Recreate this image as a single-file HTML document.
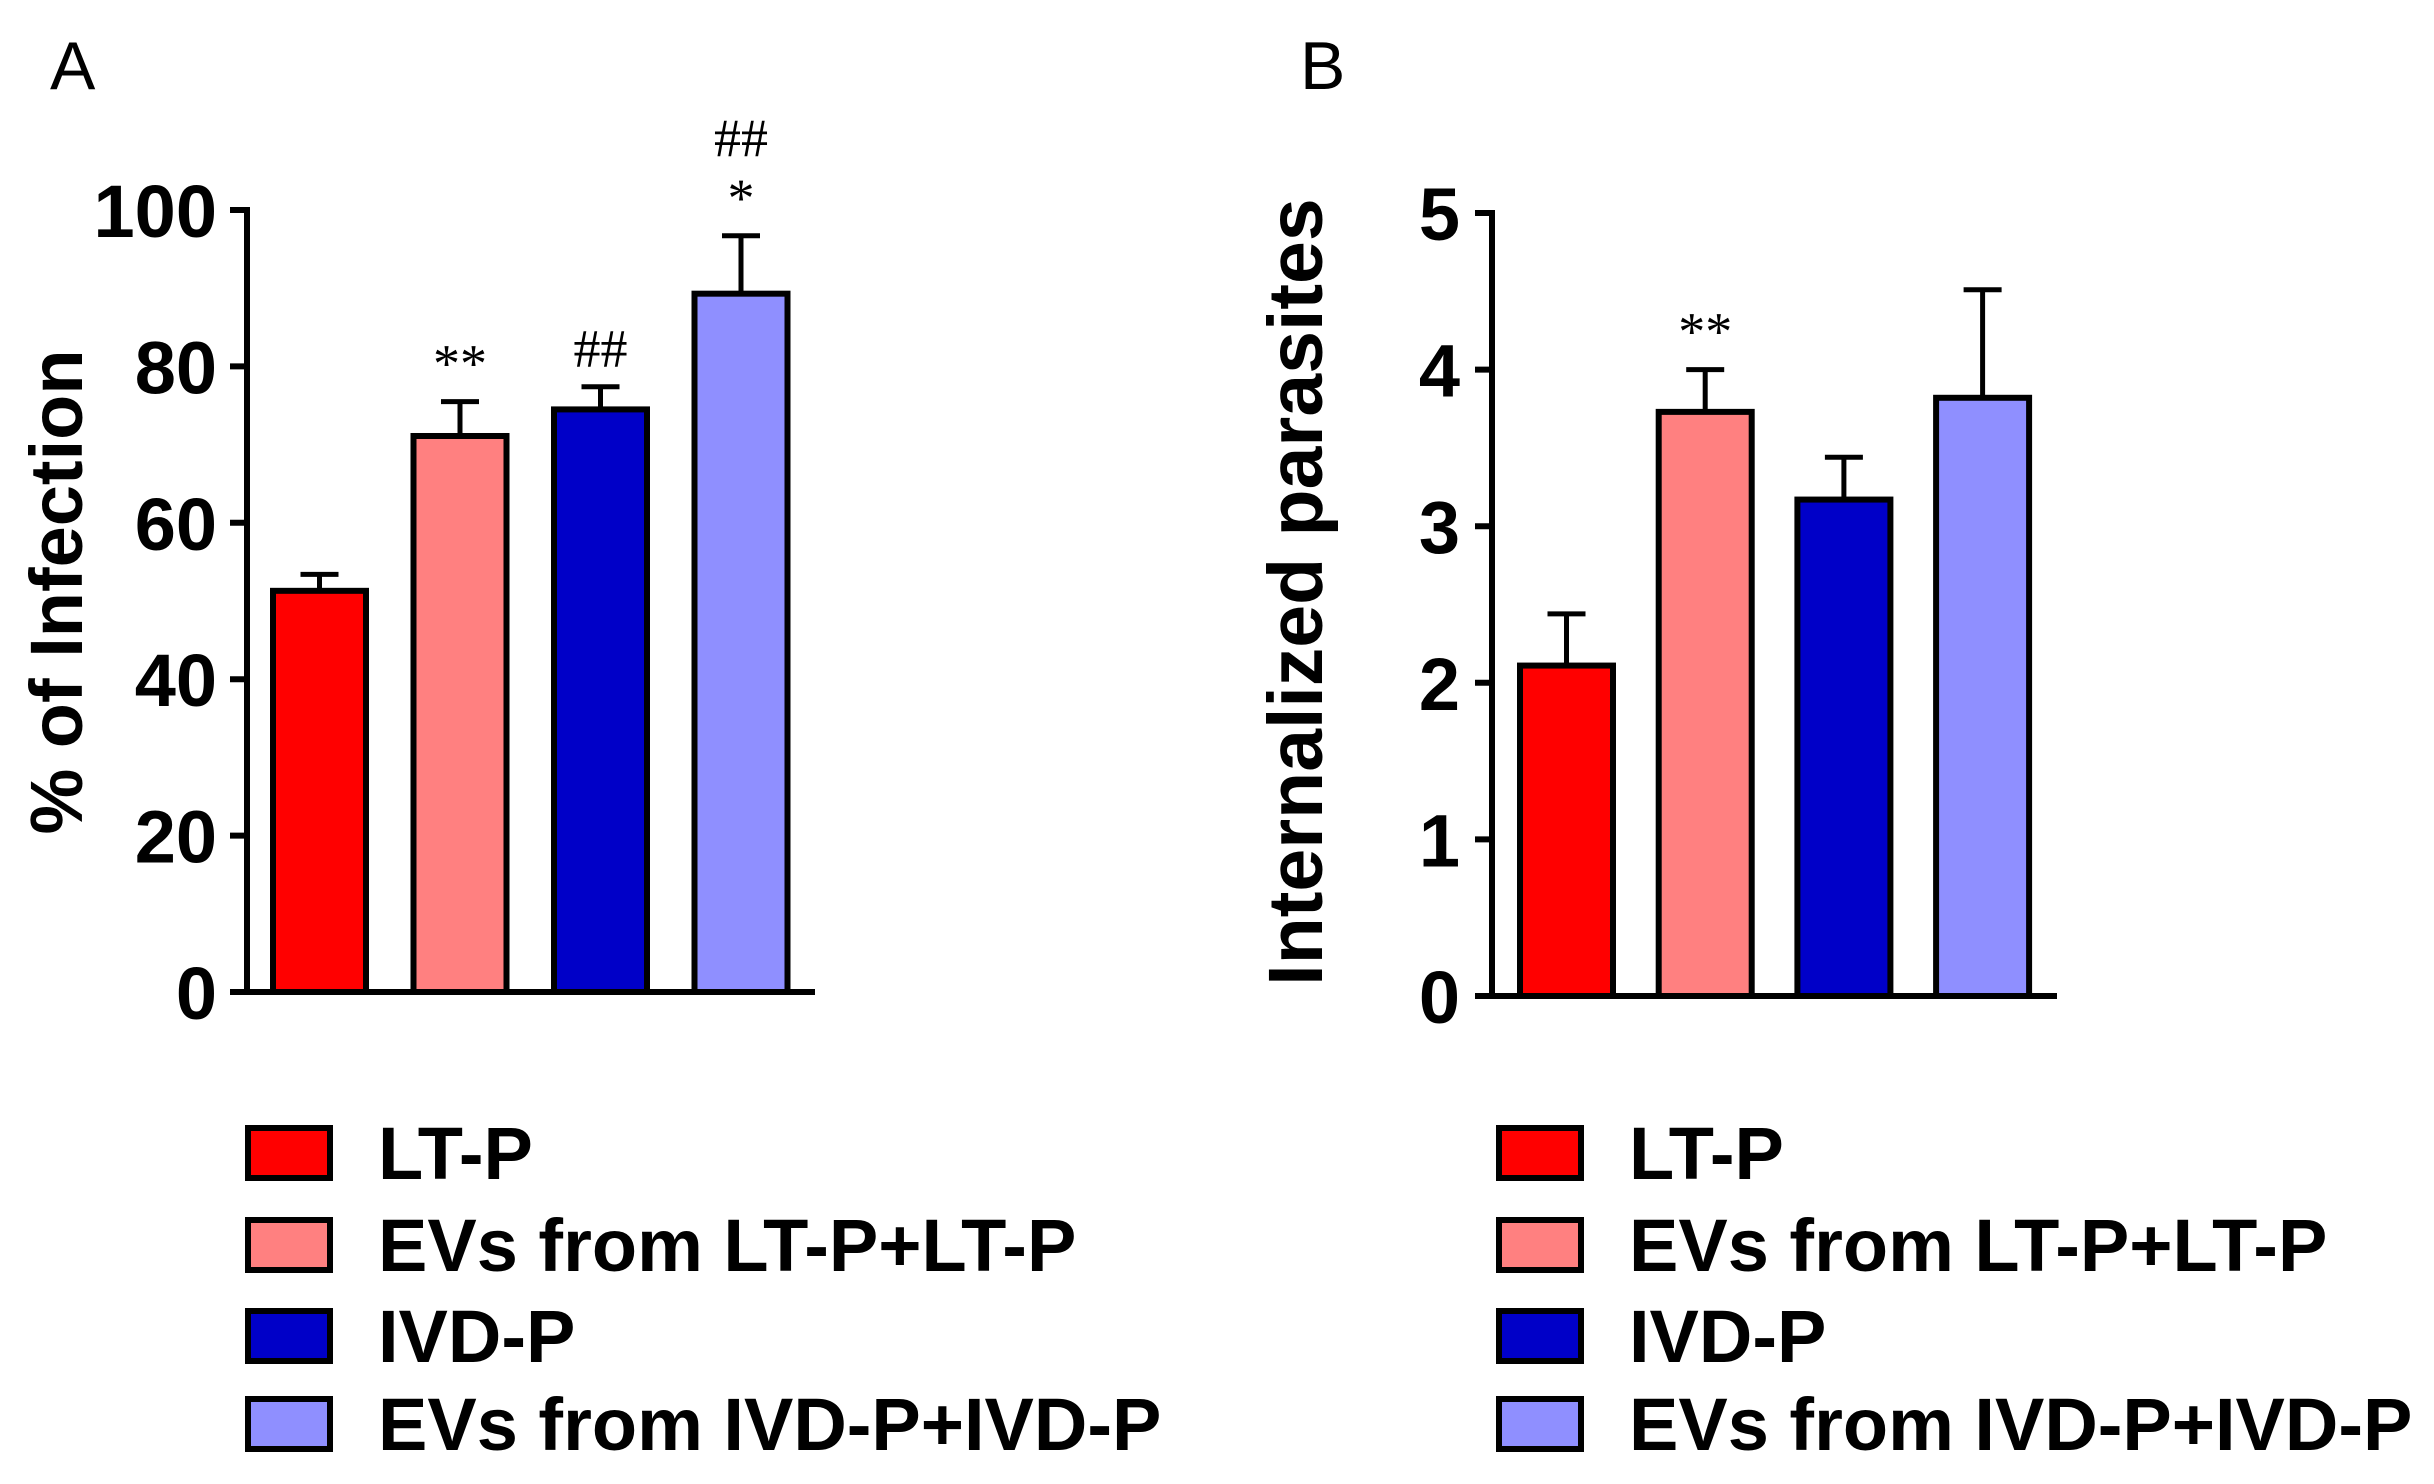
<!DOCTYPE html>
<html><head><meta charset="utf-8"><style>
html,body{margin:0;padding:0;background:#fff;}
svg{display:block;font-family:"Liberation Sans",Arial,sans-serif;}
</style></head><body>
<svg id="chart" width="2434" height="1484" viewBox="0 0 2434 1484"></svg>
<script>
const categories = ["LT-P","EVs from LT-P+LT-P","IVD-P","EVs from IVD-P+IVD-P"];
const colors = ["#ff0000","#ff8080","#0000c8","#8f8fff"];
const infectionValues = [51.3, 71.1, 74.5, 89.3];
const infectionErrors = [2.1, 4.4, 2.9, 7.4];
const infectionAnnot = ["", "**", "##", "*|##"];
const infectionTicks = [0,20,40,60,80,100];
const parasiteValues = [2.11, 3.73, 3.17, 3.82];
const parasiteErrors = [0.33, 0.27, 0.27, 0.69];
const parasiteAnnot = ["", "**", "", ""];
const parasiteTicks = [0,1,2,3,4,5];

const NS="http://www.w3.org/2000/svg";
const svg=document.getElementById('chart');
function mk(tag,attrs,parent){const e=document.createElementNS(NS,tag);for(const k in attrs)e.setAttribute(k,attrs[k]);(parent||svg).appendChild(e);return e;}

function panel(cfg){
  const g=mk('g',{});
  
  
  const y=v=>cfg.y0-(v-cfg.min)/(cfg.max-cfg.min)*(cfg.y0-cfg.yTop);
  const L=mk('text',{x:cfg.letterX,y:89,'font-size':68,fill:'#000'},g);L.textContent=cfg.letter;
  
  
  const t=mk('text',{transform:`translate(${cfg.titleX},${cfg.titleY}) rotate(-90)`,'text-anchor':'middle','font-size':cfg.titleSize,'font-weight':'bold',fill:'#000'},g);
  t.textContent=cfg.title;
  
  
  cfg.values.forEach((v,i)=>{
    const x0=cfg.barX0+i*cfg.step;
    const cx=x0+cfg.barW/2;
    const top=y(v), errTop=y(v+cfg.errors[i]);
    const el=mk('line',{x1:cx,x2:cx,y1:top,y2:errTop,stroke:'#000','stroke-width':5},g);
    
    
    const cap=mk('line',{x1:cx-19,x2:cx+19,y1:errTop,y2:errTop,stroke:'#000','stroke-width':5},g);
    
    
    const r=mk('rect',{x:x0,y:top,width:cfg.barW,height:cfg.y0-top,fill:colors[i],stroke:'#000','stroke-width':6},g);
    
    
    const a=cfg.annot[i];
    if(a){
      a.split('|').forEach((p,j)=>{
        const at=mk('text',{x:cx,y:errTop-20-j*60,'text-anchor':'middle','font-size':54,'font-family':'"Liberation Serif",serif',fill:'#000'},g);
        at.textContent=p;
        
        
      });
    }
  });
  const ya=mk('line',{x1:cfg.axisX,x2:cfg.axisX,y1:cfg.yTop-3,y2:cfg.y0+3,stroke:'#000','stroke-width':6},g);
  
  
  const xa=mk('line',{x1:cfg.axisX-17,x2:cfg.xEnd,y1:cfg.y0,y2:cfg.y0,stroke:'#000','stroke-width':6},g);
  
  
  cfg.ticks.forEach(tv=>{
    const ty=y(tv);
    const tk=mk('line',{x1:cfg.axisX-17,x2:cfg.axisX,y1:ty,y2:ty,stroke:'#000','stroke-width':6},g);
    
    
    const tl=mk('text',{x:cfg.labelRight,y:ty+27,'text-anchor':'end','font-size':74,'font-weight':'bold',fill:'#000'},g);
    tl.textContent=tv;
    
    
  });
  const rows=[1152,1244,1335,1423];
  categories.forEach((c,i)=>{
    const sw=mk('rect',{x:cfg.legX,y:rows[i]-24,width:82,height:50,fill:colors[i],stroke:'#000','stroke-width':6},g);
    
    
    const lt=mk('text',{x:cfg.legX+130,y:rows[i]+27,'font-size':74,'font-weight':'bold',fill:'#000'},g);
    lt.textContent=c;
    
    
  });
}

panel({name:'panel-a',letter:'A',letterX:50,title:'% of Infection',titleSize:74,titleX:82,titleY:592,
  values:infectionValues,errors:infectionErrors,annot:infectionAnnot,ticks:infectionTicks,min:0,max:100,
  y0:992,yTop:210,axisX:247,xEnd:815,labelRight:217,barX0:273,barW:93,step:140.5,legX:248});
panel({name:'panel-b',letter:'B',letterX:1300,title:'Internalized parasites',titleSize:77,titleX:1322,titleY:592,
  values:parasiteValues,errors:parasiteErrors,annot:parasiteAnnot,ticks:parasiteTicks,min:0,max:5,
  y0:996,yTop:213,axisX:1492,xEnd:2057,labelRight:1460,barX0:1520,barW:93,step:138.7,legX:1499});
</script>
</body></html>
